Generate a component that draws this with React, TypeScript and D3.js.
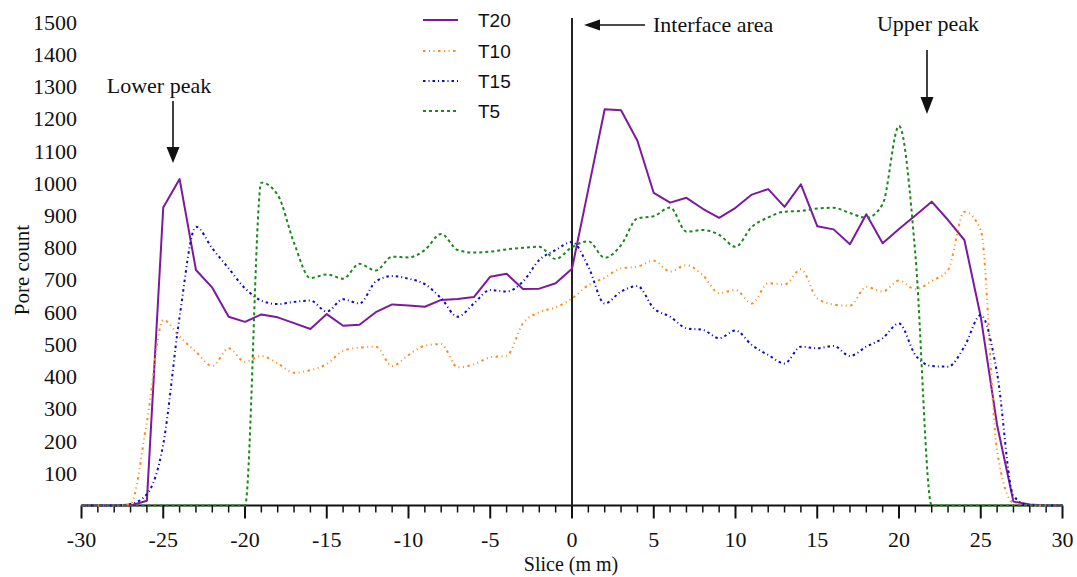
import React from "react";
import * as d3 from "d3";

const slices: number[] = d3.range(-30, 31);

const t20: number[] = [
  0, 0, 0, 0, 15, 925, 1013, 731, 676, 586, 570, 593, 584, 566, 548, 594, 558, 561, 600, 624, 621,
  617, 638, 641, 647, 710, 719, 672, 673, 690, 735, 982, 1230, 1227, 1132, 970, 940, 955, 921, 893,
  924, 965, 982, 927, 997, 867, 857, 811, 904, 814, 858, 900, 943, 886, 824, 586, 250, 12, 3, 0, 0,
];
const t10: number[] = [
  0, 0, 0, 5, 260, 576, 524, 477, 433, 488, 446, 464, 441, 412, 420, 439, 480, 490, 493, 433, 467,
  496, 501, 429, 438, 460, 465, 565, 600, 615, 643, 684, 707, 736, 741, 760, 726, 746, 715, 659,
  669, 627, 690, 686, 733, 643, 624, 620, 679, 664, 698, 671, 697, 731, 912, 855, 170, 8, 0, 0, 0,
];
const t15: number[] = [
  0, 0, 0, 5, 35, 190, 586, 865, 798, 736, 674, 636, 625, 632, 636, 602, 640, 627, 695, 712, 704,
  687, 643, 586, 627, 669, 664, 695, 762, 793, 818, 741, 627, 664, 681, 612, 586, 550, 545, 519,
  543, 498, 467, 441, 493, 488, 495, 464, 493, 519, 565, 467, 433, 431, 493, 591, 410, 30, 0, 0, 0,
];
const t5: number[] = [
  0, 0, 0, 0, 0, 0, 0, 0, 0, 0, 0, 1002, 964, 815, 706, 717, 704, 750, 729, 772, 770,
  793, 843, 793, 785, 788, 795, 800, 803, 765, 802, 820, 769, 808, 891, 898, 925, 850, 855, 840,
  803, 865, 894, 912, 914, 922, 924, 908, 893, 935, 1178, 780, 0, 0, 0, 0, 0, 0, 0, 0, 0,
];

const seriesNames = ["T20", "T10", "T15", "T5"];
const yTicks: number[] = d3.range(100, 1501, 100);
const xMajorTicks: number[] = d3.range(-30, 31, 5);
const xMinorTicks: number[] = d3.range(-30, 31, 1);

const W = 1077;
const H = 577;

export default function App() {
  const x = d3.scaleLinear().domain([-30, 30]).range([81.5, 1062.5]);
  const y = d3.scaleLinear().domain([0, 1500]).range([505.5, 22.2]);

  const styles = [
    { data: t20, color: "#7b1a9e", dash: undefined as string | undefined, width: 2, curve: d3.curveLinear },
    { data: t10, color: "#ff8a1c", dash: "2.5 3.5 1 3.5 1 3.5", width: 2, curve: d3.curveMonotoneX },
    { data: t15, color: "#0a0acc", dash: "2.5 3 1 3", width: 2, curve: d3.curveMonotoneX },
    { data: t5, color: "#18881a", dash: "3 3", width: 2, curve: d3.curveMonotoneX },
  ];

  const serif = "'Liberation Serif', 'Times New Roman', serif";
  const sans = "'Liberation Sans', Arial, sans-serif";

  const legendY = [20, 51, 81, 111];

  return (
    <svg
      width={W}
      height={H}
      style={{ position: "absolute", left: 0, top: 0, display: "block", background: "#fff" }}
    >
      <rect x={0} y={0} width={W} height={H} fill="#fff" />
      {/* x axis */}
      <line x1={x(-30)} x2={x(30)} y1={y(0)} y2={y(0)} stroke="#111" strokeWidth={2} />
      {xMinorTicks.map((t) => (
        <line
          key={"mt" + t}
          x1={x(t)}
          x2={x(t)}
          y1={y(0)}
          y2={y(0) + (t % 5 === 0 ? 13 : 7)}
          stroke="#111"
          strokeWidth={t % 5 === 0 ? 2 : 1.5}
        />
      ))}
      {xMajorTicks.map((t) => (
        <text
          key={"xl" + t}
          x={x(t)}
          y={546.5}
          textAnchor="middle"
          fontFamily={serif}
          fontSize={22}
          fill="#111"
        >
          {t}
        </text>
      ))}
      {yTicks.map((t) => (
        <text
          key={"yl" + t}
          x={77}
          y={y(t) + 7.5}
          textAnchor="end"
          fontFamily={serif}
          fontSize={22}
          fill="#111"
        >
          {t}
        </text>
      ))}
      <text x={571} y={571} textAnchor="middle" fontFamily={serif} fontSize={20} fill="#111">
        Slice (m m)
      </text>
      <text
        transform="translate(29,270) rotate(-90)"
        textAnchor="middle"
        fontFamily={serif}
        fontSize={21}
        fill="#111"
      >
        Pore count
      </text>

      {/* interface vertical line */}
      <line x1={x(0)} x2={x(0)} y1={18} y2={y(0)} stroke="#222" strokeWidth={2} />

      {/* series */}
      {styles.map((s, i) => {
        const line = d3
          .line<number>()
          .x((_, j) => x(slices[j]))
          .y((d) => y(d))
          .curve(s.curve);
        return (
          <path
            key={"s" + i}
            d={line(s.data) || ""}
            fill="none"
            stroke={s.color}
            strokeWidth={s.width}
            strokeDasharray={s.dash}
            strokeLinejoin="round"
          />
        );
      })}

      {/* legend */}
      {styles.map((s, i) => (
        <g key={"lg" + i}>
          <line
            x1={423}
            x2={458}
            y1={legendY[i]}
            y2={legendY[i]}
            stroke={s.color}
            strokeWidth={s.width}
            strokeDasharray={s.dash}
          />
          <text x={478} y={legendY[i] + 7} fontFamily={sans} fontSize={19} fill="#111">
            {seriesNames[i]}
          </text>
        </g>
      ))}

      {/* annotations */}
      <line x1={598} x2={645} y1={25} y2={25} stroke="#111" strokeWidth={1.6} />
      <path d="M584,25 L600,19.5 L600,30.5 Z" fill="#111" />
      <text x={653} y={32} fontFamily={serif} fontSize={22} fill="#111">
        Interface area
      </text>

      <text x={159} y={93} textAnchor="middle" fontFamily={serif} fontSize={22} fill="#111">
        Lower peak
      </text>
      <line x1={173} x2={173} y1={101} y2={149} stroke="#111" strokeWidth={1.6} />
      <path d="M173,163 L166.5,147 L179.5,147 Z" fill="#111" />

      <text x={928} y={31} textAnchor="middle" fontFamily={serif} fontSize={22} fill="#111">
        Upper peak
      </text>
      <line x1={927} x2={927} y1={50} y2={99} stroke="#111" strokeWidth={1.6} />
      <path d="M927,114 L920.5,97 L933.5,97 Z" fill="#111" />
    </svg>
  );
}
